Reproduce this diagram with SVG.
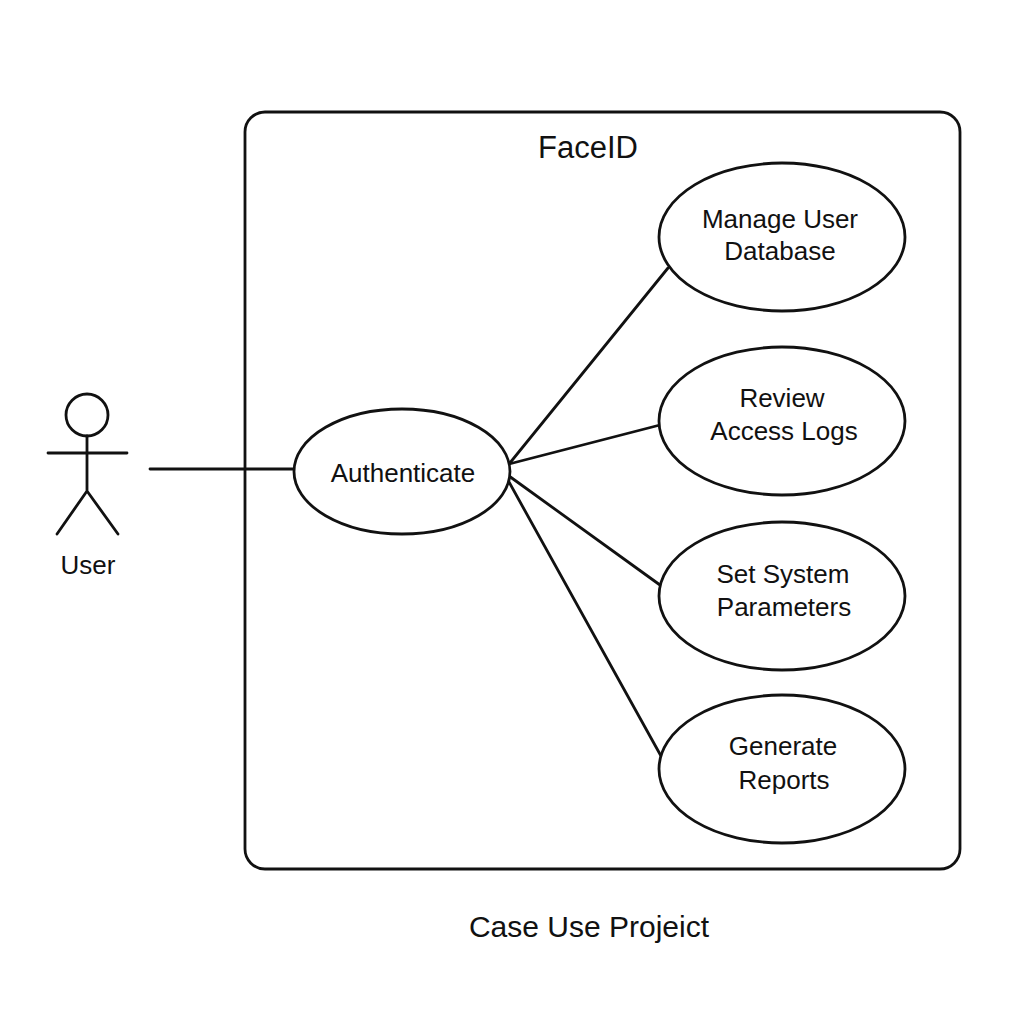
<svg xmlns="http://www.w3.org/2000/svg" width="1024" height="1024" viewBox="0 0 1024 1024">
<style>
.s{fill:none;stroke:#111;stroke-width:2.8;stroke-linecap:round}
.e{fill:#fff;stroke:#111;stroke-width:2.8}
text{font-family:"Liberation Sans",Arial,sans-serif;fill:#111;text-anchor:middle}
.l{font-size:26px}
.t{font-size:31px}
</style>
<rect width="1024" height="1024" fill="#fff"/>
<g id="system"><rect class="s" x="245" y="112" width="715" height="757" rx="20" ry="20"/>
<text class="t" x="588" y="158">FaceID</text></g>
<g id="connectors">
<path class="s" d="M150 469H295"/>
<path class="s" d="M509 464L668 268"/>
<path class="s" d="M509 464L660 425"/>
<path class="s" d="M509 476L660 585"/>
<path class="s" d="M509 482L661 756"/>
</g>
<g id="actor-user">
<circle class="s" cx="87" cy="415" r="21"/>
<path class="s" d="M87 436V491M48 453H127M87 491L57 534M87 491L118 534"/>
<text class="l" x="88" y="574">User</text></g>
<g id="uc-authenticate"><ellipse class="e" cx="402" cy="471.500" rx="108" ry="62.500"/>
<text class="l" x="403" y="482">Authenticate</text></g>
<g id="uc-manage"><ellipse class="e" cx="782" cy="237" rx="123" ry="74"/>
<text class="l" x="780" y="228">Manage User</text><text class="l" x="780" y="260">Database</text></g>
<g id="uc-review"><ellipse class="e" cx="782" cy="421" rx="123" ry="74"/>
<text class="l" x="782" y="407">Review</text><text class="l" x="784" y="440">Access Logs</text></g>
<g id="uc-params"><ellipse class="e" cx="782" cy="596" rx="123" ry="74"/>
<text class="l" x="783" y="583">Set System</text><text class="l" x="784" y="616">Parameters</text></g>
<g id="uc-reports"><ellipse class="e" cx="782" cy="769" rx="123" ry="74"/>
<text class="l" x="783" y="755">Generate</text><text class="l" x="784" y="789">Reports</text></g>
<text x="589" y="937" font-size="30">Case Use Projeict</text>
</svg>
